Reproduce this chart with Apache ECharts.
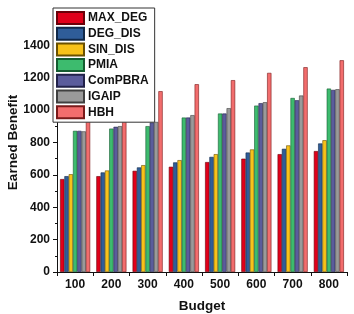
<!DOCTYPE html>
<html>
<head>
<meta charset="utf-8">
<script src="https://cdn.jsdelivr.net/npm/echarts@6/dist/echarts.min.js"></script>
<style>html,body{margin:0;padding:0;background:#fff;}#c{width:354px;height:314px;}</style>
</head>
<body>
<div id="c"></div>
<script>
const budgets = ['100','200','300','400','500','600','700','800'];
const MAX_DEG = [574, 592, 625, 650, 679, 700, 728, 747];
const DEG_DIS = [592, 615, 646, 677, 711, 738, 761, 794];
const SIN_DIS = [604, 627, 660, 691, 728, 757, 782, 814];
const PMIA    = [872, 886, 901, 954, 979, 1028, 1075, 1133];
const ComPBRA = [872, 897, 924, 954, 979, 1043, 1061, 1125];
const IGAIP   = [869, 901, 927, 969, 1012, 1049, 1090, 1129];
const HBH     = [1000, 1060, 1117, 1160, 1185, 1230, 1265, 1308];

const seriesDefs = [
  ['MAX_DEG', MAX_DEG, '#e0001a', '#6a0008'],
  ['DEG_DIS', DEG_DIS, '#2f5d99', '#102848'],
  ['SIN_DIS', SIN_DIS, '#f8c21a', '#6a5000'],
  ['PMIA', PMIA, '#3dbb6e', '#145c30'],
  ['ComPBRA', ComPBRA, '#5b5c9c', '#22224a'],
  ['IGAIP', IGAIP, '#9a9a9a', '#404040'],
  ['HBH', HBH, '#f26d6d', '#7a1a1a']
];

const chart = echarts.init(document.getElementById('c'));
const font = 'Arial, "Liberation Sans", sans-serif';
chart.setOption({
  animation: false,
  backgroundColor: '#fff',
  grid: {left: 57, right: 7, top: 13, bottom: 42, containLabel: false, outerBoundsMode: 'none'},
  legend: {
    orient: 'vertical', left: 53, top: 8,
    itemWidth: 27, itemHeight: 12, itemGap: 1.7,
    padding: [3, 6, 3, 3],
    backgroundColor: '#fff', borderColor: '#333', borderWidth: 1,
    textStyle: {fontFamily: font, fontWeight: 'bold', fontSize: 12, lineHeight: 12, color: '#111', padding: [0,0,0,-1]},
    icon: 'rect',
    data: seriesDefs.map(s => s[0])
  },
  xAxis: {
    type: 'category', data: budgets,
    name: 'Budget', nameLocation: 'middle', nameGap: 27,
    nameTextStyle: {fontFamily: font, fontWeight: 'bold', fontSize: 13.5, color: '#111'},
    axisLine: {lineStyle: {color: '#111', width: 1}},
    axisTick: {show: true, length: 4, lineStyle: {color: '#111'}},
    axisLabel: {fontFamily: font, fontWeight: 'bold', fontSize: 12, color: '#111', margin: 7}
  },
  yAxis: {
    type: 'value', min: 0, max: 1600, interval: 200,
    name: 'Earned Benefit', nameLocation: 'middle', nameGap: 37, nameMoveOverlap: false,
    nameTextStyle: {fontFamily: font, fontWeight: 'bold', fontSize: 13.5, color: '#111'},
    axisLine: {show: true, lineStyle: {color: '#111', width: 1}},
    axisTick: {show: true, length: 4, lineStyle: {color: '#111'}},
    minorTick: {show: true, splitNumber: 2, length: 2, lineStyle: {color: '#111'}},
    splitLine: {show: false},
    axisLabel: {fontFamily: font, fontWeight: 'bold', fontSize: 12, color: '#111', margin: 7,
      formatter: v => v >= 1600 ? '' : String(v)}
  },
  series: seriesDefs.map(s => ({
    name: s[0], type: 'bar', data: s[1],
    barGap: '0%', barCategoryGap: '17%',
    itemStyle: {color: s[2], borderColor: s[3], borderWidth: 0.6}
  }))
});
</script>
</body>
</html>
